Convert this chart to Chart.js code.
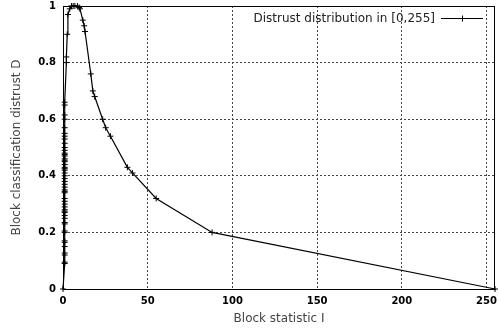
<!DOCTYPE html>
<html>
<head>
<meta charset="utf-8">
<script src="https://cdn.jsdelivr.net/npm/chart.js@4/dist/chart.umd.min.js"></script>
<style>
  html, body { margin: 0; padding: 0; background: #fff; }
  #wrap { width: 499px; height: 331px; position: relative; }
</style>
</head>
<body>
<div id="wrap"><canvas id="chart"></canvas></div>
<script>
// block statistic I (x) and distrust D (y)
var blockStat = [0,
    1, 1, 1, 1, 1, 1, 1, 1, 1, 1, 1, 1, 1, 1, 1, 1, 1, 1, 1, 1, 1, 1, 1, 1, 1,
    1, 1, 1, 1, 1, 1, 1, 1, 1, 1, 1, 1, 1, 1, 1, 1, 1, 1, 1, 1, 1, 1, 1, 1, 1,
    2, 2, 2.5, 2.9, 4, 5, 6, 7, 8.5, 9.5, 10,
    11.7, 12.5, 13, 16.4, 17.6, 18.7, 23.4, 25.2, 28, 38, 41, 55, 88, 255];
var distrust = [0,
    0.09, 0.095, 0.12, 0.127, 0.15, 0.165, 0.17, 0.20, 0.205, 0.23, 0.235, 0.25, 0.26, 0.27, 0.275, 0.28, 0.29, 0.30, 0.31, 0.32, 0.34, 0.345, 0.35, 0.36, 0.37,
    0.38, 0.39, 0.40, 0.41, 0.42, 0.425, 0.43, 0.44, 0.45, 0.455, 0.46, 0.47, 0.475, 0.48, 0.49, 0.50, 0.515, 0.53, 0.54, 0.55, 0.57, 0.60, 0.615, 0.65, 0.66,
    0.80, 0.82, 0.90, 0.97, 0.99, 1, 1, 1, 1, 0.995, 0.99,
    0.95, 0.93, 0.91, 0.76, 0.70, 0.68, 0.60, 0.57, 0.54, 0.43, 0.41, 0.32, 0.20, 0];
var xTicks = [0, 50, 100, 150, 200, 250];
var yTicks = [0, 0.2, 0.4, 0.6, 0.8, 1];
var seriesLabel = "Distrust distribution in [0,255]";

var FONT = "'DejaVu Sans', sans-serif";

// gnuplot-like frame plus key in the top right corner
var framePlugin = {
    id: 'frame',
    afterDraw: function(chart) {
        var a = chart.chartArea, ctx = chart.ctx;
        ctx.save();
        ctx.strokeStyle = '#000';
        ctx.lineWidth = 1;
        ctx.strokeRect(a.left + 0.5, a.top + 0.5, a.right - a.left - 1, a.bottom - a.top);
        // key
        var ds = chart.data.datasets[0];
        var ky = a.top + 12.5;
        ctx.font = "12px " + FONT;
        ctx.fillStyle = '#222';
        ctx.textAlign = 'right';
        ctx.textBaseline = 'middle';
        ctx.fillText(ds.label, a.right - 60, ky);
        ctx.beginPath();
        ctx.moveTo(a.right - 54, ky);
        ctx.lineTo(a.right - 12, ky);
        var cx = a.right - 33;
        ctx.moveTo(cx - 3, ky); ctx.lineTo(cx + 3, ky);
        ctx.moveTo(cx + 0.5, ky - 3); ctx.lineTo(cx + 0.5, ky + 3);
        ctx.stroke();
        ctx.restore();
    }
};

var ctx = document.getElementById('chart').getContext('2d');
var chart = new Chart(ctx, {
    type: 'scatter',
    data: {
        datasets: [{
            label: seriesLabel,
            data: blockStat.map(function(x, i) { return {x: x, y: distrust[i]}; }),
            showLine: true,
            borderColor: '#000',
            backgroundColor: '#000',
            borderWidth: 1.2,
            pointStyle: 'cross',
            pointRadius: 3,
            pointBorderWidth: 1,
            pointHoverRadius: 3,
            clip: false
        }]
    },
    options: {
        responsive: true,
        maintainAspectRatio: false,
        animation: false,
        layout: { padding: { left: 0, right: 2, top: 6, bottom: 0 } },
        plugins: {
            legend: { display: false },
            tooltip: { enabled: false }
        },
        scales: {
            x: {
                type: 'linear',
                min: 0,
                max: 255,
                afterBuildTicks: function(s) { s.ticks = xTicks.map(function(v) { return {value: v}; }); },
                afterFit: function(s) { s.height = 42; s.paddingLeft = 0; s.paddingRight = 0; },
                ticks: {
                    color: '#000',
                    font: { family: FONT, size: 10, weight: 'bold' },
                    padding: 6,
                    maxRotation: 0,
                    autoSkip: false
                },
                grid: { color: '#444', lineWidth: 1, drawTicks: false },
                border: { display: true, color: '#000', dash: [2, 2] },
                title: {
                    display: true,
                    text: 'Block statistic I',
                    color: '#444',
                    font: { family: FONT, size: 12 },
                    padding: { top: 0, bottom: 5 }
                }
            },
            y: {
                type: 'linear',
                min: 0,
                max: 1,
                afterBuildTicks: function(s) { s.ticks = yTicks.map(function(v) { return {value: v}; }); },
                afterFit: function(s) { s.width = 63; s.paddingTop = 0; s.paddingBottom = 0; },
                ticks: {
                    color: '#000',
                    font: { family: FONT, size: 10, weight: 'bold' },
                    padding: 7,
                    autoSkip: false,
                    callback: function(v) { return String(Math.round(v * 10) / 10); }
                },
                grid: { color: '#444', lineWidth: 1, drawTicks: false },
                border: { display: true, color: '#000', dash: [2, 2] },
                title: {
                    display: true,
                    text: 'Block classification distrust D',
                    color: '#444',
                    font: { family: FONT, size: 12 },
                    padding: { top: 10, bottom: 0 }
                }
            }
        }
    },
    plugins: [framePlugin]
});
</script>
</body>
</html>
